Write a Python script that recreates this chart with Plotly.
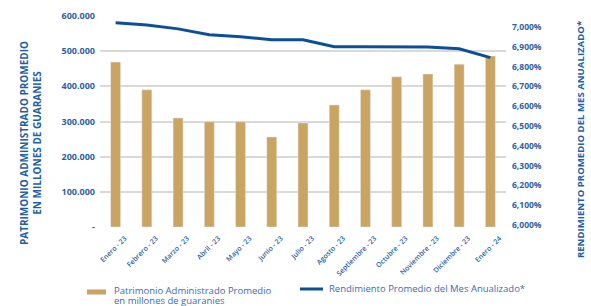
import plotly.graph_objects as go

meses = ["Enero - 23", "Febrero - 23", "Marzo - 23", "Abril - 23", "Mayo - 23", "Junio - 23",
         "Julio - 23", "Agosto - 23", "Septiembre - 23", "Octubre - 23", "Noviembre - 23",
         "Diciembre - 23", "Enero - 24"]
patrimonio = [469000, 390000, 310000, 299000, 299000, 256000, 296000, 347000, 390000,
              427000, 435000, 463000, 486000]
rendimiento = [7.021, 7.009, 6.990, 6.960, 6.950, 6.935, 6.935, 6.900, 6.900, 6.898,
               6.898, 6.890, 6.845]

left_vals = [0, 100000, 200000, 300000, 400000, 500000, 600000]
left_text = ["-", "100.000", "200.000", "300.000", "400.000", "500.000", "600.000"]
right_vals = [6.0, 6.1, 6.2, 6.3, 6.4, 6.5, 6.6, 6.7, 6.8, 6.9, 7.0]
right_text = ["6,000%", "6,100%", "6,200%", "6,300%", "6,400%", "6,500%", "6,600%",
              "6,700%", "6,800%", "6,900%", "7,000%"]

bar_name_1 = "Patrimonio Administrado Promedio"
bar_name_2 = "en millones de guaranies"
line_name = "Rendimiento Promedio del Mes Anualizado*"

blue = "#0d4f97"
tick_blue = "#2d62a3"
title_blue = "#1f5fa8"
legend_blue = "#3a6db0"
gold = "#c9a462"
font = "Open Sans"

fig = go.Figure()
fig.add_trace(go.Bar(x=meses, y=patrimonio, marker_color=gold, width=0.32,
                     name=bar_name_1 + " " + bar_name_2, showlegend=False))
fig.add_trace(go.Scatter(x=meses, y=rendimiento, yaxis="y2", mode="lines",
                         line=dict(color=blue, width=3),
                         name=line_name, showlegend=False))

legend_font = dict(size=9.5, color=legend_blue, family=font)

fig.update_layout(
    width=591, height=306,
    margin=dict(l=100, r=85, t=16, b=79),
    plot_bgcolor="white", paper_bgcolor="white",
    font=dict(family=font, color=tick_blue),
    showlegend=False,
    xaxis=dict(tickangle=-45, tickfont=dict(size=7, color=tick_blue, family=font, weight=600),
               showgrid=False, showline=False, ticks="", automargin=False,
               ticklabelshift=9, ticklabelstandoff=5),
    yaxis=dict(range=[0, 600000], tickvals=left_vals, ticktext=left_text,
               tickfont=dict(size=9, color=tick_blue, family=font, weight="bold"),
               showgrid=True, gridcolor="#d9d9d9", gridwidth=2, zeroline=False,
               ticklabelstandoff=4, automargin=False),
    yaxis2=dict(overlaying="y", side="right", range=[5.99, 7.055],
                tickvals=right_vals, ticktext=right_text,
                tickfont=dict(size=8.5, color=tick_blue, family=font, weight="bold"),
                showgrid=False, zeroline=False, ticklabelstandoff=5, automargin=False),
    bargap=0.68,
    shapes=[
        dict(type="rect", xref="paper", yref="paper", x0=-0.032, x1=0.0148,
             y0=-0.32, y1=-0.296, fillcolor=gold, line=dict(width=0)),
        dict(type="line", xref="paper", yref="paper", x0=0.4926, x1=0.5493,
             y0=-0.2938, y1=-0.2938, line=dict(color=blue, width=3)),
    ],
    annotations=[
        dict(text="PATRIMONIO ADMINISTRADO PROMEDIO<br>EN MILLONES DE GUARANIES",
             xref="paper", yref="paper", x=-0.1724, y=0.398, textangle=-90,
             showarrow=False, xanchor="center", yanchor="middle",
             font=dict(size=10, color=title_blue, family=font, weight="bold")),
        dict(text="RENDIMIENTO PROMEDIO DEL MES ANUALIZADO*",
             xref="paper", yref="paper", x=1.1823, y=0.412, textangle=-90,
             showarrow=False, xanchor="center", yanchor="middle", borderpad=0,
             font=dict(size=9.6, color=title_blue, family=font, weight="bold")),
        dict(text=bar_name_1, xref="paper", yref="paper", x=0.032, y=-0.2986,
             xanchor="left", yanchor="middle", align="left", showarrow=False,
             borderpad=0, font=legend_font),
        dict(text=bar_name_2, xref="paper", yref="paper", x=0.032, y=-0.346,
             xanchor="left", yanchor="middle", align="left", showarrow=False,
             borderpad=0, font=legend_font),
        dict(text=line_name, xref="paper", yref="paper", x=0.5616, y=-0.2938,
             xanchor="left", yanchor="middle", align="left", showarrow=False,
             borderpad=0, font=legend_font),
    ],
)

fig.write_html("out.html", config={"displayModeBar": False},
               post_script="document.body.style.margin='0';")
